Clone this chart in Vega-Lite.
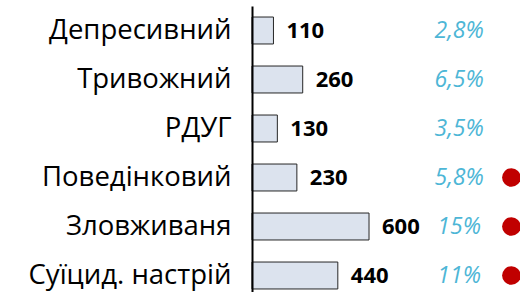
{
  "$schema": "https://vega.github.io/schema/vega-lite/v6.json",
  "autosize": "none",
  "width": 268,
  "height": 292,
  "padding": {"left": 252, "top": 0, "right": 0, "bottom": 0},
  "background": "white",
  "config": {"view": {"stroke": null}, "font": "Open Sans"},
  "data": {
    "values": [
      {"cat": "Депресивний", "value": 110, "pct": "2,8%", "flag": false},
      {"cat": "Тривожний", "value": 260, "pct": "6,5%", "flag": false},
      {"cat": "РДУГ", "value": 130, "pct": "3,5%", "flag": false},
      {"cat": "Поведінковий", "value": 230, "pct": "5,8%", "flag": true},
      {"cat": "Зловживаня", "value": 600, "pct": "15%", "flag": true},
      {"cat": "Суїцид. настрій", "value": 440, "pct": "11%", "flag": true}
    ]
  },
  "encoding": {
    "y": {
      "field": "cat",
      "type": "nominal",
      "sort": null,
      "scale": {"range": [6, 300], "paddingInner": 0.45, "paddingOuter": 0.225},
      "axis": {
        "title": null,
        "domain": true,
        "domainColor": "#000000",
        "domainWidth": 2,
        "ticks": false,
        "grid": false,
        "labelFont": "Open Sans",
        "labelFontSize": 27.5,
        "labelColor": "#000000",
        "labelPadding": 21,
        "labelLimit": 400,
        "zindex": 1
      }
    }
  },
  "layer": [
    {
      "mark": {"type": "bar", "fill": "#DCE3EE", "stroke": "#262626", "strokeWidth": 1},
      "encoding": {
        "x": {"field": "value", "type": "quantitative", "scale": {"domain": [0, 1374], "nice": false, "zero": true}, "axis": null}
      }
    },
    {
      "mark": {"type": "text", "align": "left", "baseline": "middle", "dx": 13, "fontWeight": "bold", "fontSize": 22, "color": "#000000"},
      "encoding": {
        "x": {"field": "value", "type": "quantitative"},
        "text": {"field": "value", "type": "quantitative"}
      }
    },
    {
      "mark": {"type": "text", "align": "center", "baseline": "middle", "fontStyle": "italic", "fontSize": 23, "color": "#4DB6D6"},
      "encoding": {
        "x": {"datum": 1062, "type": "quantitative"},
        "text": {"field": "pct", "type": "nominal"}
      }
    },
    {
      "transform": [{"filter": "datum.flag"}],
      "mark": {"type": "point", "shape": "circle", "filled": true, "color": "#C00000", "opacity": 1, "size": 346},
      "encoding": {
        "x": {"datum": 1330, "type": "quantitative"}
      }
    }
  ]
}
